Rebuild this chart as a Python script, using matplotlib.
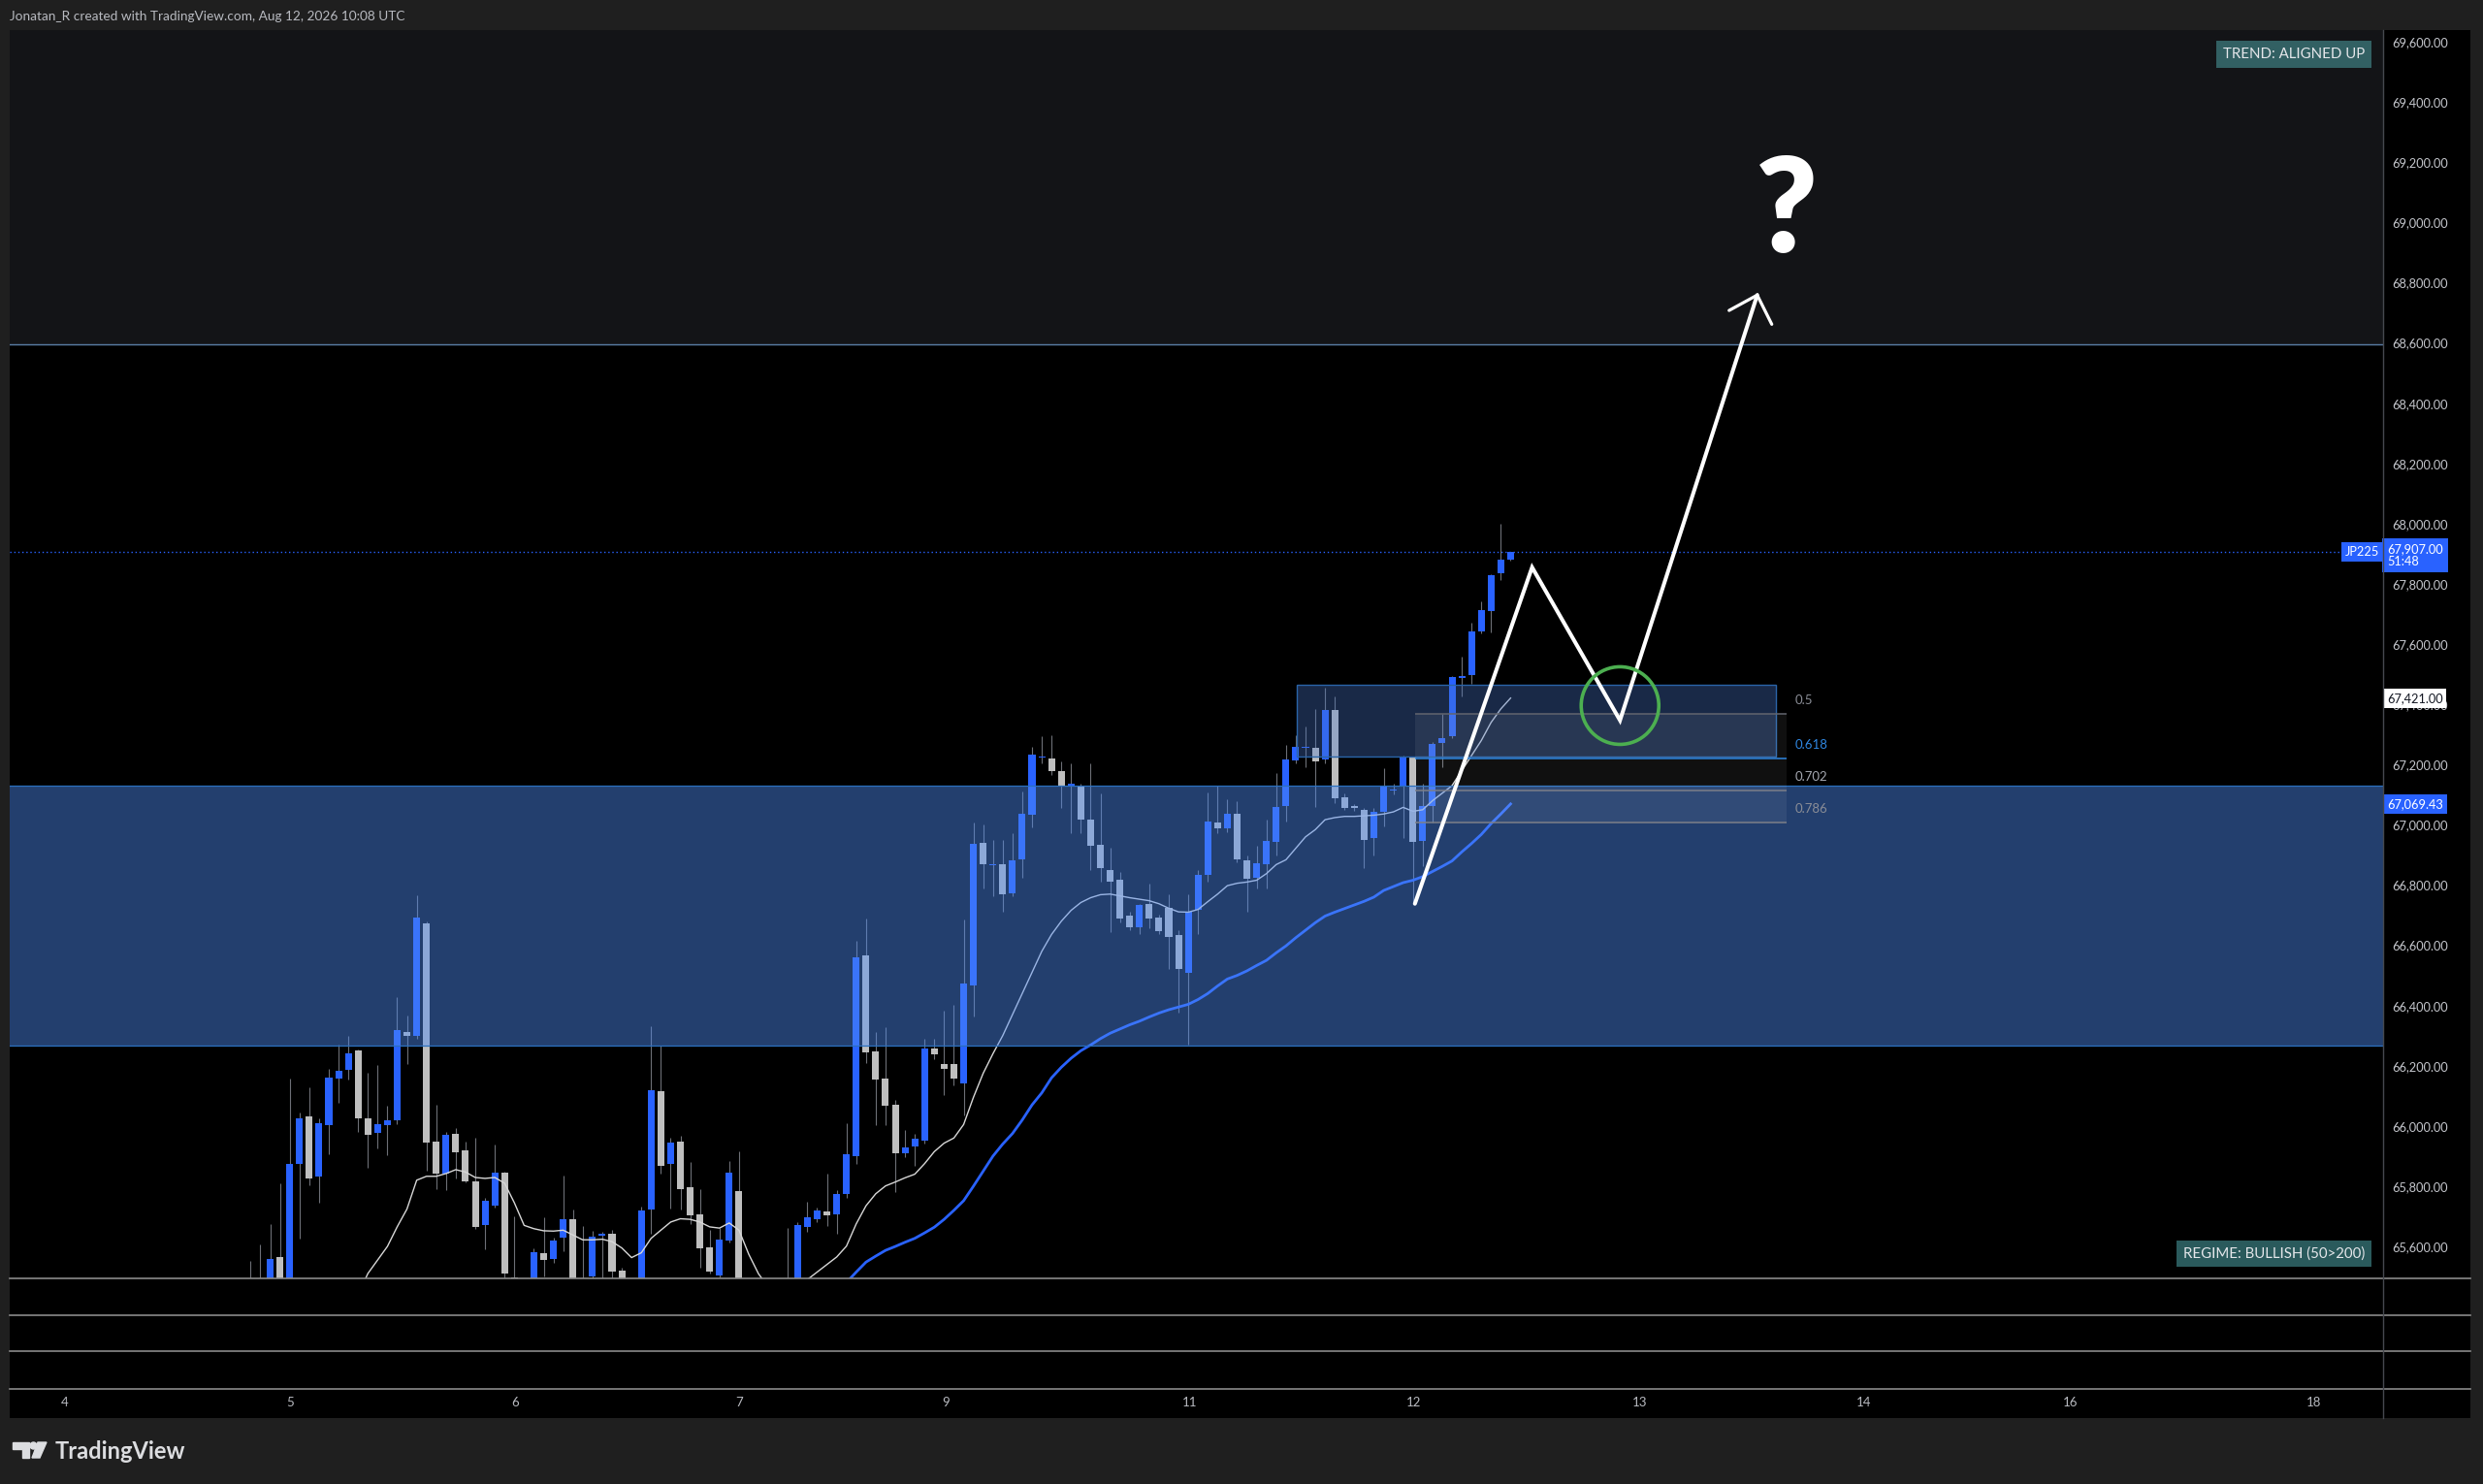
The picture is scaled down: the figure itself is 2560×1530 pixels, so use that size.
import numpy as np
import matplotlib
matplotlib.use("Agg")
import matplotlib.pyplot as plt
import matplotlib.transforms as mtransforms
from matplotlib.lines import Line2D
from matplotlib.patches import Rectangle, Ellipse, Polygon

plt.rcParams['font.family'] = ['Lato', 'DejaVu Sans']

# JP225 hourly candles, bar 0 = first candle on the chart
opens = [65470, 65420, 65440, 65565, 65470, 65874, 66032, 65831, 66003, 66157,
         66185, 66250, 66027, 65976, 66003, 66019, 66312, 66298, 66674, 65947,
         65842, 65973, 65919, 65815, 65670, 65734, 65844, 65498, 65450, 65460,
         65579, 65560, 65630, 65691, 65480, 65500, 65636, 65641, 65520, 65420,
         65460, 65724, 66115, 65874, 65949, 65797, 65708, 65598, 65504, 65619,
         65783, 65450, 65400, 65380, 65450, 65430, 65470, 65665, 65692, 65717,
         65708, 65774, 65901, 66566, 66249, 66159, 66071, 65908, 65931, 65951,
         66256, 66206, 66206, 66142, 66467, 66940, 66866, 66868, 66773, 66886,
         67033, 67223, 67220, 67178, 67130, 67131, 67017, 66934, 66850, 66817,
         66697, 66659, 66737, 66693, 66723, 66634, 66507, 66717, 66833, 67009,
         66988, 67037, 66881, 66824, 66868, 66944, 67063, 67215, 67255, 67255,
         67218, 67381, 67091, 67061, 67051, 66957, 67044, 67114, 67127, 67224,
         66948, 67064, 67272, 67293, 67488, 67497, 67642, 67710, 67835, 67882]
highs = [65552, 65606, 65675, 65809, 66156, 66046, 66129, 66027, 66191, 66271,
         66298, 66255, 66177, 66201, 66067, 66427, 66368, 66765, 66679, 66069,
         65981, 65992, 65949, 65962, 65761, 65938, 65847, 65700, 65480, 65595,
         65697, 65630, 65836, 65724, 65668, 65651, 65650, 65654, 65530, 65480,
         65731, 66332, 66266, 65962, 65969, 65882, 65790, 65656, 65660, 65883,
         65915, 65480, 65470, 65480, 65488, 65661, 65680, 65748, 65730, 65841,
         65788, 66008, 66616, 66690, 66312, 66329, 66088, 65988, 65975, 66289,
         66289, 66382, 66403, 66686, 67007, 67001, 66950, 66950, 66971, 67111,
         67258, 67295, 67298, 67211, 67204, 67138, 67204, 67104, 66924, 66844,
         66710, 66737, 66804, 66703, 66770, 66650, 66770, 66850, 67108, 67131,
         67084, 67077, 66897, 66930, 67017, 67171, 67264, 67298, 67327, 67385,
         67454, 67425, 67104, 67070, 67057, 67057, 67189, 67138, 67231, 67228,
         67136, 67275, 67369, 67495, 67560, 67672, 67742, 67833, 68000, 67907]
lows = [65380, 65380, 65400, 65420, 65440, 65627, 65804, 65745, 65906, 66078,
        66153, 65981, 65860, 65926, 65903, 66005, 66205, 66290, 65852, 65790,
        65788, 65826, 65812, 65659, 65592, 65729, 65460, 65440, 65380, 65430,
        65500, 65547, 65584, 65440, 65420, 65485, 65480, 65480, 65420, 65390,
        65440, 65643, 65842, 65727, 65724, 65675, 65531, 65509, 65498, 65612,
        65440, 65360, 65340, 65350, 65400, 65420, 65450, 65650, 65680, 65668,
        65641, 65761, 65875, 66209, 66002, 66002, 65781, 65895, 65868, 65942,
        66222, 66102, 66135, 66035, 66362, 66790, 66763, 66710, 66763, 66824,
        66991, 67204, 67164, 67057, 66971, 66971, 66850, 66810, 66643, 66677,
        66650, 66636, 66656, 66636, 66523, 66376, 66269, 66636, 66810, 66971,
        66977, 66877, 66710, 66790, 66790, 66897, 67011, 67205, 67191, 67060,
        67205, 67071, 67050, 67045, 66857, 66897, 66996, 67100, 66957, 66737,
        66862, 67007, 67192, 67288, 67425, 67468, 67635, 67640, 67814, 67878]
closes = [65430, 65480, 65557, 65460, 65874, 66027, 65826, 66008, 66161, 66184,
          66242, 66024, 65970, 66006, 66018, 66319, 66298, 66692, 65944, 65842,
          65971, 65912, 65815, 65665, 65753, 65845, 65511, 65470, 65420, 65581,
          65555, 65620, 65691, 65470, 65450, 65633, 65643, 65518, 65450, 65460,
          65721, 66118, 65869, 65946, 65790, 65702, 65593, 65518, 65624, 65844,
          65470, 65400, 65380, 65450, 65430, 65480, 65670, 65697, 65718, 65704,
          65774, 65907, 66560, 66246, 66153, 66068, 65911, 65928, 65959, 66258,
          66238, 66189, 66159, 66472, 66937, 66868, 66870, 66769, 66881, 67037,
          67234, 67228, 67180, 67127, 67135, 67017, 66930, 66857, 66810, 66690,
          66659, 66733, 66690, 66646, 66627, 66523, 66713, 66833, 67012, 66988,
          67036, 66884, 66820, 66873, 66948, 67060, 67218, 67258, 67258, 67211,
          67381, 67087, 67057, 67055, 66950, 67044, 67131, 67116, 67224, 66944,
          67064, 67270, 67289, 67490, 67493, 67642, 67713, 67830, 67879, 67907]

# moving averages
ma_fast_bars = list(range(11, 130))
ma_fast_vals = [65440, 65510, 65555, 65600, 65665, 65724, 65820, 65833, 65833, 65842,
                65855, 65847, 65829, 65826, 65829, 65810, 65745, 65670, 65659, 65652,
                65651, 65654, 65638, 65622, 65622, 65624, 65616, 65595, 65563, 65579,
                65627, 65654, 65681, 65692, 65690, 65681, 65665, 65661, 65678, 65654,
                65574, 65509, 65465, 65450, 65450, 65465, 65490, 65515, 65540, 65565,
                65601, 65675, 65735, 65775, 65801, 65814, 65828, 65840, 65875, 65915,
                65943, 65960, 66005, 66095, 66175, 66240, 66300, 66370, 66440, 66510,
                66580, 66636, 66680, 66716, 66742, 66758, 66768, 66770, 66764, 66758,
                66753, 66748, 66738, 66723, 66711, 66710, 66719, 66745, 66770, 66798,
                66806, 66810, 66816, 66838, 66868, 66884, 66922, 66960, 66984, 67017,
                67024, 67028, 67028, 67030, 67032, 67036, 67043, 67058, 67045, 67050,
                67080, 67105, 67130, 67180, 67230, 67280, 67340, 67385, 67421]
ma_slow_bars = list(range(60, 130))
ma_slow_vals = [65440, 65480, 65515, 65548, 65568, 65587, 65600, 65614, 65627, 65645,
                65664, 65690, 65720, 65752, 65800, 65850, 65900, 65940, 65975, 66020,
                66070, 66110, 66160, 66195, 66225, 66250, 66269, 66290, 66308, 66322,
                66336, 66348, 66362, 66375, 66386, 66395, 66404, 66420, 66440, 66465,
                66488, 66500, 66515, 66533, 66550, 66575, 66598, 66625, 66650, 66675,
                66697, 66710, 66722, 66734, 66746, 66760, 66782, 66795, 66808, 66816,
                66828, 66845, 66862, 66880, 66910, 66938, 66968, 67004, 67036, 67069.43]

price_ticks = list(range(65600, 69601, 200))
day_ticks = [-19.0, 4.0, 27.1, 50.0, 71.2, 96.1, 119.1, 142.2, 165.2, 186.3, 211.2]
day_labels = ['4', '5', '6', '7', '9', '11', '12', '13', '14', '16', '18']

# drawings
zone_low, zone_high = 66267, 67130
upper_zone_low = 68595
ob_bars = [107.1, 156.2]
ob_low, ob_high = 67227, 67465
fib_bars = [119.2, 157.3]
fib_low, fib_high = 66737, 68000
fib_levels = [0.5, 0.618, 0.702, 0.786]
path_bars = [119.2, 131.2, 140.2, 154.25]
path_prices = [66738, 67855, 67347, 68759]
head_bars = [151.37, 154.25, 155.74]
head_prices = [68708, 68759, 68662]
circle_bar, circle_price = 140.2, 67396
qmark_bar, qmark_price = 157.3, 69030

last_price = 67907.00
ma_fast_last = 67421.00
ma_slow_last = 67069.43

W, H = 2560, 1530
fig = plt.figure(figsize=(W / 100, H / 100), dpi=100, facecolor='#1f1f1f')


def frect(x0, y0, x1, y1):
    # pixel box (origin top-left) -> figure fractions
    return [x0 / W, 1 - y1 / H, (x1 - x0) / W, (y1 - y0) / H]


fig.add_artist(Rectangle((10 / W, 1 - 1462 / H), 2537 / W, 1431 / H, transform=fig.transFigure,
                         facecolor='black', edgecolor='none', zorder=-5))

ax = fig.add_axes(frect(10, 31, 2457, 1318))
ax.set_facecolor('black')
ax.set_xlim(-24.67, 218.33)
ax.set_ylim(65494, 69639)
for s in ax.spines.values():
    s.set_visible(False)
ax.set_xticks([])
ax.yaxis.tick_right()
ax.set_yticks(price_ticks)
ax.set_yticklabels([f'{p:,.2f}' for p in price_ticks])
ax.tick_params(axis='y', length=0, pad=6.5, labelsize=9.2, labelcolor='#c4c6cc')

# upper dark area
ax.axhspan(upper_zone_low, 70000, facecolor='#131417', lw=0, zorder=0.5)
ax.axhline(upper_zone_low, color='#5a7ea6', lw=1, zorder=0.6)

# candles
x = np.arange(len(opens))
o = np.array(opens, float)
c = np.array(closes, float)
up = c >= o
cols = np.where(up, '#2962ff', '#bfbfbf')
ax.vlines(x, lows, highs, colors='#6d6f76', lw=0.8, zorder=2)
ax.bar(x, np.maximum(np.abs(c - o), 4), bottom=np.minimum(o, c), width=0.7,
       color=cols, lw=0, zorder=2.1)

# moving averages
ax.plot(ma_fast_bars, ma_fast_vals, color='#d8d8d8', lw=1.0, zorder=3)
ax.plot(ma_slow_bars, ma_slow_vals, color='#2962ff', lw=2.0, zorder=3)

# price line
ax.axhline(last_price, color='#2962ff', lw=1, ls=(0, (1, 2)), zorder=3.5)

# demand zone
ax.axhspan(zone_low, zone_high, facecolor=(0.31, 0.55, 0.96), alpha=0.45, lw=0, zorder=4)
for yv in (zone_low, zone_high):
    ax.axhline(yv, color='#2b70bf', lw=0.9, zorder=4.1)

# order block
ax.add_patch(Rectangle((ob_bars[0], ob_low), ob_bars[1] - ob_bars[0], ob_high - ob_low,
                       facecolor=(0.29, 0.47, 0.80), alpha=0.35, edgecolor='none', zorder=4))
ax.add_patch(Rectangle((ob_bars[0], ob_low), ob_bars[1] - ob_bars[0], ob_high - ob_low,
                       fill=False, edgecolor='#2a64a8', lw=1, zorder=4.2))

# fib retracement
fib_prices = [fib_high - lv * (fib_high - fib_low) for lv in fib_levels]
fib_cols = ['#62656e', '#2f86e0', '#7c7f88', '#7c7f88']
lab_cols = ['#8a8d96', '#2f86e0', '#a4a7b0', '#8a8d96']
for i in range(len(fib_prices) - 1):
    ax.fill_between(fib_bars, fib_prices[i], fib_prices[i + 1], color='white', alpha=0.065,
                    lw=0, zorder=4.3)
ax.hlines(fib_prices, fib_bars[0], fib_bars[1], colors=fib_cols, lw=1.1, zorder=4.4)
lab_tr = mtransforms.offset_copy(ax.transData, fig=fig, x=0, y=10, units='points')
for lv, fp, lc in zip(fib_levels, fib_prices, lab_cols):
    ax.text(fib_bars[1] + 0.8, fp, f'{lv:g}', transform=lab_tr, color=lc, fontsize=9.5,
            ha='left', va='center', zorder=5)

# projection path
ax.plot(path_bars, path_prices, color='white', lw=2.9, solid_joinstyle='miter',
        solid_capstyle='round', zorder=6)
ax.plot(head_bars, head_prices, color='white', lw=2.3, solid_joinstyle='miter',
        solid_capstyle='round', zorder=6)
ax.add_patch(Ellipse((circle_bar, circle_price), width=80 / 10.07, height=80 * 3.2206,
                     fill=False, edgecolor='#4caf50', lw=2.6, zorder=6))
ax.text(qmark_bar, qmark_price, '?', ha='center', va='center', fontsize=98,
        fontweight='heavy', color='white', zorder=6)

# status boxes
ax.text(0.9923, 0.9806, 'TREND: ALIGNED UP', transform=ax.transAxes, ha='right', va='center',
        fontsize=10.8, color='#e4e6ea', zorder=7,
        bbox=dict(boxstyle='square,pad=0.45', facecolor='#326063', edgecolor='none'))
ax.text(0.9923, 0.0198, 'REGIME: BULLISH (50>200)', transform=ax.transAxes, ha='right', va='center',
        fontsize=10.8, color='#e4e6ea', zorder=7,
        bbox=dict(boxstyle='square,pad=0.45', facecolor='#2a5a5c', edgecolor='none'))

# price scale tags
btr = mtransforms.blended_transform_factory(ax.transAxes, ax.transData)
tag_x = 1 + 4 / 2447
ax.text(1 - 4 / 2447, last_price, 'JP225', transform=btr, ha='right', va='center', fontsize=9.2,
        color='white', zorder=8, clip_on=False,
        bbox=dict(boxstyle='square,pad=0.3', facecolor='#2962ff', edgecolor='none'))
tr_top = mtransforms.offset_copy(btr, fig=fig, x=0, y=6, units='points')
ax.text(tag_x, last_price, f'{last_price:,.2f}\n51:48', transform=tr_top, ha='left', va='top',
        fontsize=9.2, color='white', linespacing=1.05, zorder=8, clip_on=False,
        bbox=dict(boxstyle='square,pad=0.4', facecolor='#2962ff', edgecolor='none'))
ax.text(tag_x, ma_fast_last, f'{ma_fast_last:,.2f}', transform=btr, ha='left', va='center',
        fontsize=9.2, color='#131722', zorder=8, clip_on=False,
        bbox=dict(boxstyle='square,pad=0.3', facecolor='white', edgecolor='none'))
ax.text(tag_x, ma_slow_last, f'{ma_slow_last:,.2f}', transform=btr, ha='left', va='center',
        fontsize=9.2, color='white', zorder=8, clip_on=False,
        bbox=dict(boxstyle='square,pad=0.3', facecolor='#2962ff', edgecolor='none'))

# pane separators, price-scale border
for yp in (1318, 1356, 1393, 1432):
    fig.add_artist(Line2D([10 / W, 2547 / W], [1 - yp / H, 1 - yp / H], transform=fig.transFigure,
                          color='#8a8a8a', lw=1.2, zorder=5))
fig.add_artist(Line2D([2457 / W, 2457 / W], [1 - 31 / H, 1 - 1462 / H], transform=fig.transFigure,
                      color='#45484f', lw=1, zorder=5))

# time axis labels
ttr = mtransforms.blended_transform_factory(ax.transData, fig.transFigure)
for d, lab in zip(day_ticks, day_labels):
    ax.text(d, 1 - 1446 / H, lab, transform=ttr, ha='center', va='center', fontsize=9.5,
            color='#b8bac0', clip_on=False)

# header and logo
fig.text(10 / W, 1 - 17 / H, 'Jonatan_R created with TradingView.com, Aug 12, 2026 10:08 UTC',
         color='#b8bac0', fontsize=9.8, ha='left', va='center')
fig.text(57 / W, 1 - 1496 / H, 'TradingView', color='#dcdde0', fontsize=17, fontweight='bold',
         ha='left', va='center')
logo_col = '#dcdde0'
fig.add_artist(Polygon([[13 / W, 1 - 1487 / H], [30 / W, 1 - 1487 / H], [30 / W, 1 - 1503 / H],
                        [23 / W, 1 - 1503 / H], [23 / W, 1 - 1494 / H], [13 / W, 1 - 1494 / H]],
                       closed=True, transform=fig.transFigure, color=logo_col, zorder=5))
fig.add_artist(Ellipse((34.5 / W, 1 - 1490.5 / H), 7 / W, 7 / H, transform=fig.transFigure,
                       color=logo_col, zorder=5))
fig.add_artist(Polygon([[39 / W, 1 - 1487 / H], [48 / W, 1 - 1487 / H], [41 / W, 1 - 1503 / H],
                        [33 / W, 1 - 1503 / H]], closed=True, transform=fig.transFigure,
                       color=logo_col, zorder=5))

fig.savefig('out.png', dpi=100, facecolor=fig.get_facecolor())
